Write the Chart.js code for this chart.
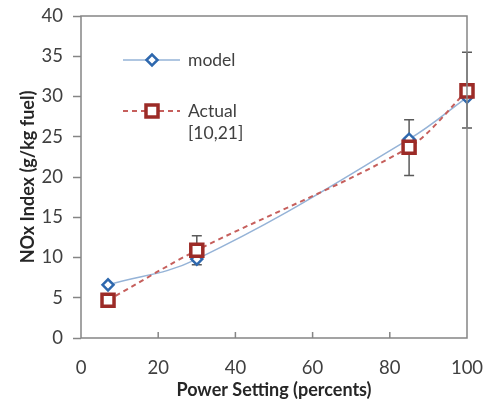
<!DOCTYPE html>
<html>
<head>
<meta charset="utf-8">
<script src="https://cdn.jsdelivr.net/npm/chart.js@4.4.1/dist/chart.umd.min.js"></script>
<style>
  body { margin: 0; background: #fff; }
  #wrap { width: 488px; height: 403px; }
</style>
</head>
<body>
<div id="wrap"><canvas id="chart" width="488" height="403"></canvas></div>
<script>
// data
const powerSetting = [7, 30, 85, 100];
const modelNOx = [6.6, 9.8, 24.7, 29.9];
const actualNOx = [4.7, 10.9, 23.7, 30.7];
const actualErrLow = [null, 9.1, 20.2, 26.1];
const actualErrHigh = [null, 12.7, 27.1, 35.5];
const xTicks = [0, 20, 40, 60, 80, 100];
const yTicks = [0, 5, 10, 15, 20, 25, 30, 35, 40];

const FONT = 'Lato, "Open Sans", sans-serif';
const frameColor = '#858585';
const blueLine = '#95b3d7', blueMark = '#2e68ae';
const redLine = '#c65f5c', redMark = '#9c2b27';

const toPoints = (ys) => powerSetting.map((x, i) => ({x: x, y: ys[i]}));

// frame + inward x ticks
const framePlugin = {
    id: 'frame',
    afterDraw(chart) {
        const {ctx, chartArea: a, scales} = chart;
        ctx.save();
        ctx.strokeStyle = frameColor;
        ctx.lineWidth = 1.5;
        ctx.strokeRect(a.left, a.top, a.right - a.left, a.bottom - a.top);
        xTicks.slice(1, -1).forEach(v => {
            const px = scales.x.getPixelForValue(v);
            ctx.beginPath();
            ctx.moveTo(px, a.bottom);
            ctx.lineTo(px, a.bottom - 6);
            ctx.stroke();
        });
        ctx.restore();
    }
};

// error bars on the measured values, under the markers
const errorBars = {
    id: 'errorBars',
    beforeDatasetsDraw(chart) {
        const {ctx, scales: {x, y}} = chart;
        ctx.save();
        ctx.strokeStyle = '#5a5a5a';
        ctx.lineWidth = 1.5;
        powerSetting.forEach((p, i) => {
            if (actualErrLow[i] == null) return;
            const px = x.getPixelForValue(p);
            const lo = y.getPixelForValue(actualErrLow[i]);
            const hi = y.getPixelForValue(actualErrHigh[i]);
            ctx.beginPath();
            ctx.moveTo(px, lo); ctx.lineTo(px, hi);
            ctx.moveTo(px - 5, lo); ctx.lineTo(px + 5, lo);
            ctx.moveTo(px - 5, hi); ctx.lineTo(px + 5, hi);
            ctx.stroke();
        });
        ctx.restore();
    }
};

// legend inside the plot, like the original
const insideLegend = {
    id: 'insideLegend',
    afterDraw(chart) {
        const ctx = chart.ctx;
        const x0 = 123, x1 = 180, xm = 152, tx = 188;
        ctx.save();
        // model
        ctx.strokeStyle = blueLine; ctx.lineWidth = 1.5;
        ctx.beginPath(); ctx.moveTo(x0, 60); ctx.lineTo(x1, 60); ctx.stroke();
        ctx.strokeStyle = blueMark; ctx.fillStyle = '#fff'; ctx.lineWidth = 2.5;
        Chart.helpers.drawPoint(ctx, {pointStyle: 'rectRot', radius: 5.5, borderWidth: 2.5, rotation: 0}, xm, 60);
        // actual
        ctx.strokeStyle = redLine; ctx.lineWidth = 2; ctx.setLineDash([5, 4]);
        ctx.beginPath(); ctx.moveTo(x0, 111); ctx.lineTo(x1, 111); ctx.stroke();
        ctx.setLineDash([]);
        ctx.strokeStyle = redMark; ctx.fillStyle = '#fff'; ctx.lineWidth = 3.5;
        Chart.helpers.drawPoint(ctx, {pointStyle: 'rect', radius: 8.5, borderWidth: 3.5, rotation: 0}, xm, 111);
        // labels
        ctx.fillStyle = '#404040';
        ctx.font = '17.5px ' + FONT;
        ctx.textBaseline = 'middle';
        ctx.fillText('model', tx, 60);
        ctx.fillText('Actual', tx, 111);
        ctx.fillText('[10,21]', tx, 133);
        ctx.restore();
    }
};

new Chart(document.getElementById('chart'), {
    type: 'scatter',
    data: {
        datasets: [{
            label: 'Actual [10,21]',
            data: toPoints(actualNOx),
            showLine: true,
            borderColor: redLine,
            borderWidth: 2,
            borderDash: [5, 4],
            tension: 0.3,
            pointStyle: 'rect',
            pointRadius: 8.5,
            pointBorderWidth: 3.5,
            pointBorderColor: redMark,
            pointBackgroundColor: '#fff'
        }, {
            label: 'model',
            data: toPoints(modelNOx),
            showLine: true,
            borderColor: blueLine,
            borderWidth: 1.5,
            tension: 0.4,
            pointStyle: 'rectRot',
            pointRadius: 5.5,
            pointBorderWidth: 2.5,
            pointBorderColor: blueMark,
            pointBackgroundColor: '#fff'
        }]
    },
    options: {
        responsive: false,
        animation: false,
        clip: false,
        layout: { padding: { top: 16, right: 21, left: 0, bottom: 0 } },
        plugins: {
            legend: { display: false },
            tooltip: { enabled: false }
        },
        scales: {
            x: {
                type: 'linear',
                min: 0, max: 100,
                afterBuildTicks: (s) => { s.ticks = xTicks.map(v => ({value: v})); },
                afterFit: (s) => { s.height = 65; s.paddingLeft = 0; s.paddingRight = 0; },
                border: { display: false },
                grid: { display: false },
                ticks: { color: '#404040', padding: 11, font: { family: FONT, size: 18.5 } },
                title: {
                    display: true,
                    text: 'Power Setting (percents)',
                    color: '#262626',
                    padding: { top: 0, bottom: 2 },
                    font: { family: FONT, size: 18, weight: 'bold' }
                }
            },
            y: {
                min: 0, max: 40,
                afterBuildTicks: (s) => { s.ticks = yTicks.map(v => ({value: v})); },
                afterFit: (s) => { s.width = 81; s.paddingTop = 0; s.paddingBottom = 0; },
                border: { display: false },
                grid: {
                    drawOnChartArea: false,
                    drawTicks: true,
                    tickLength: 8,
                    tickWidth: 1.5,
                    tickColor: frameColor
                },
                ticks: { color: '#404040', padding: 10, font: { family: FONT, size: 18.5 } },
                title: {
                    display: true,
                    text: 'NOx Index (g/kg fuel)',
                    color: '#262626',
                    padding: { top: 17, bottom: 0 },
                    font: { family: FONT, size: 18, weight: 'bold' }
                }
            }
        }
    },
    plugins: [framePlugin, errorBars, insideLegend]
});
</script>
</body>
</html>
